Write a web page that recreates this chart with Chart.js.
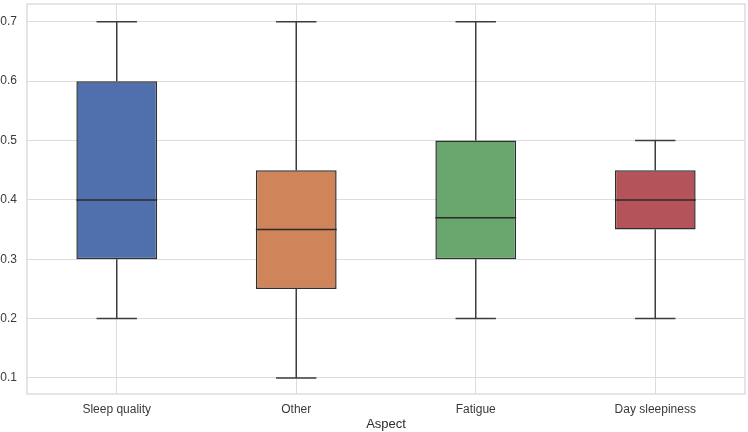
<!DOCTYPE html>
<html>
<head>
<meta charset="utf-8">
<script src="https://cdn.jsdelivr.net/npm/chart.js@4/dist/chart.umd.min.js"></script>
<style>
  html, body { margin: 0; padding: 0; background: #fff; }
  #wrap { width: 748px; height: 432px; }
</style>
</head>
<body>
<div id="wrap"><canvas id="box"></canvas></div>
<script>
// box plot numbers
const categories = ["Sleep quality", "Other", "Fatigue", "Day sleepiness"];
const mins    = [0.2, 0.1, 0.2, 0.2];
const q1s     = [0.3, 0.25, 0.3, 0.35];
const medians = [0.4, 0.35, 0.37, 0.4];
const q3s     = [0.6, 0.45, 0.5, 0.45];
const maxs    = [0.7, 0.7, 0.7, 0.5];
const yTicks  = [0.1, 0.2, 0.3, 0.4, 0.5, 0.6, 0.7];
const boxColors = ["#4f6fad", "#d0845a", "#68a66d", "#b5535a"];

const lineColor = "#3d3d3d";

// whiskers, caps, medians and the frame, all placed with the chart scales
const boxExtras = {
    id: "boxExtras",
    beforeDatasetsDraw(chart) {
        let ctx = chart.ctx, x = chart.scales.x, y = chart.scales.y;
        let meta = chart.getDatasetMeta(0);
        ctx.save();
        ctx.strokeStyle = lineColor;
        ctx.lineWidth = 1.5;
        for (let i = 0; i < categories.length; i++) {
            let cx = x.getPixelForValue(i);
            let half = meta.data[i].width / 4;
            let yMin = y.getPixelForValue(mins[i]), yMax = y.getPixelForValue(maxs[i]);
            ctx.beginPath();
            ctx.moveTo(cx, y.getPixelForValue(q3s[i]));
            ctx.lineTo(cx, yMax);
            ctx.moveTo(cx, y.getPixelForValue(q1s[i]));
            ctx.lineTo(cx, yMin);
            ctx.moveTo(cx - half, yMax);
            ctx.lineTo(cx + half, yMax);
            ctx.moveTo(cx - half, yMin);
            ctx.lineTo(cx + half, yMin);
            ctx.stroke();
        }
        ctx.restore();
    },
    afterDatasetsDraw(chart) {
        let ctx = chart.ctx, x = chart.scales.x, y = chart.scales.y;
        let meta = chart.getDatasetMeta(0);
        ctx.save();
        ctx.strokeStyle = "#2b2b2b";
        ctx.lineWidth = 1.5;
        for (let i = 0; i < categories.length; i++) {
            let cx = x.getPixelForValue(i);
            let half = meta.data[i].width / 2;
            let my = y.getPixelForValue(medians[i]);
            ctx.beginPath();
            ctx.moveTo(cx - half, my);
            ctx.lineTo(cx + half, my);
            ctx.stroke();
        }
        let a = chart.chartArea;
        ctx.strokeStyle = "#d5d5d5";
        ctx.lineWidth = 1.2;
        ctx.strokeRect(a.left, a.top, a.right - a.left, a.bottom - a.top);
        ctx.restore();
    }
};

new Chart(document.getElementById("box"), {
    type: "bar",
    data: {
        labels: categories,
        datasets: [{
            data: categories.map((c, i) => [q1s[i], q3s[i]]),
            backgroundColor: boxColors,
            borderColor: "#2f2f2f",
            borderWidth: 1.5,
            borderSkipped: false,
            categoryPercentage: 1,
            barPercentage: 0.45
        }]
    },
    options: {
        responsive: true,
        maintainAspectRatio: false,
        animation: false,
        layout: { padding: { top: 4, right: 3, left: 0, bottom: 0 } },
        plugins: { legend: { display: false }, tooltip: { enabled: false } },
        scales: {
            x: {
                offset: true,
                afterFit(scale) { scale.paddingLeft = 0; scale.paddingRight = 0; scale.height = 38; },
                grid: { color: "#dcdcdc", lineWidth: 1, offset: false, drawTicks: false, tickLength: 0 },
                border: { display: false },
                ticks: { color: "#3a3a3a", padding: 8, font: { family: "Arial, 'Liberation Sans'", size: 12 } },
                title: { display: true, text: "Aspect", color: "#2a2a2a", padding: { top: 1, bottom: 0 },
                         font: { family: "Arial, 'Liberation Sans'", size: 13 } }
            },
            y: {
                min: 0.073,
                max: 0.73,
                afterBuildTicks(scale) {
                    scale.ticks = yTicks.map(v => ({ value: v }));
                },
                afterFit(scale) { scale.paddingTop = 0; scale.paddingBottom = 0; scale.width = 27; },
                grid: { color: "#dcdcdc", lineWidth: 1, drawTicks: false, tickLength: 0 },
                border: { display: false },
                ticks: { color: "#3a3a3a", padding: 10, font: { family: "Arial, 'Liberation Sans'", size: 12 },
                         callback: v => v.toFixed(1) }
            }
        }
    },
    plugins: [boxExtras]
});
</script>
</body>
</html>
